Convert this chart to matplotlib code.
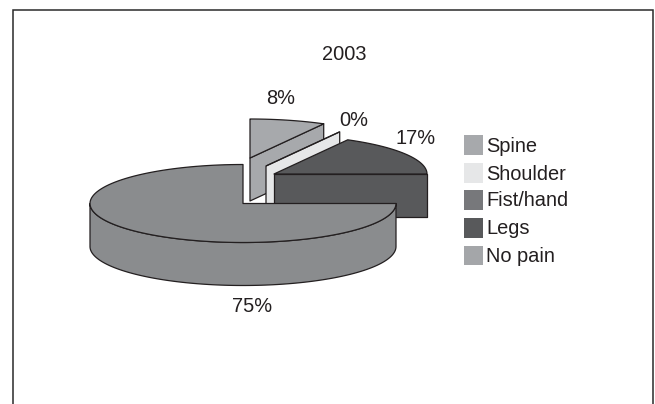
import numpy as np
import matplotlib
matplotlib.use("Agg")
import matplotlib.pyplot as plt
from matplotlib.patches import Polygon, Rectangle

plt.rcParams["font.family"] = ["Liberation Sans", "DejaVu Sans"]

title = "2003"
categories = ["Spine", "Shoulder", "Fist/hand", "Legs", "No pain"]
shares = [8, 0, 0, 17, 75]
key_colors = ["#a7a9ac", "#e6e7e8", "#77787b", "#58595b", "#a4a6a9"]
slice_colors = ["#a7a9ac", "#e6e7e8", "#77787b", "#58595b", "#8a8c8e"]
value_labels = ["8%", "0%", None, "17%", "75%"]

INK = "#231f20"
RX, RY, DEPTH = 153.0, 39.0, 43.0
# slice apex in pixel space, each one pulled out of the pie separately
apexes = {0: (250, 158), 1: (266, 166), 3: (274, 174), 4: (243, 203.5)}
label_xy = {0: (281, 99), 1: (354, 120), 3: (416, 138), 4: (252, 306)}

fig = plt.figure(figsize=(6.55, 4.04), dpi=100)
ax = fig.add_axes([0, 0, 1, 1])
ax.set_xlim(0, 655)
ax.set_ylim(404, 0)
ax.axis("off")


def rim(cx, cy, a0, a1, n=120):
    """Points along the ellipse from a0 to a1 (degrees, counter-clockwise)."""
    t = np.radians(np.linspace(a0, a1, n))
    return np.column_stack([cx + RX * np.cos(t), cy - RY * np.sin(t)])


def draw_back_slice(idx, a_start, a_end):
    cx, cy = apexes[idx]
    style = dict(facecolor=slice_colors[idx], edgecolor=INK, linewidth=0.9, joinstyle="round")
    apex = np.array([[cx, cy]])
    down = np.array([0, DEPTH])
    # only the radial wall on the clockwise side faces the viewer
    p = rim(cx, cy, a_end, a_end, 1)
    ax.add_patch(Polygon(np.vstack([apex, p, p + down, apex + down]), closed=True, **style))
    ax.add_patch(Polygon(np.vstack([apex, rim(cx, cy, a_end, a_start)]), closed=True, **style))


# walk clockwise from twelve o'clock, drawing back slices first
angle = 90.0
spans = {}
for i, s in enumerate(shares):
    spans[i] = (angle, angle - s * 3.6)
    angle -= s * 3.6

for i in (0, 1, 3):
    draw_back_slice(i, *spans[i])

# the large slice wraps round from 0 deg through the front to 90 deg
cx, cy = apexes[4]
style = dict(facecolor=slice_colors[4], edgecolor=INK, linewidth=0.9, joinstyle="round")
front = rim(cx, cy, 180, 360)
ax.add_patch(Polygon(np.vstack([front, (front + [0, DEPTH])[::-1]]), closed=True, **style))
top = rim(cx, cy, spans[4][1] + 360, spans[4][0] + 360 if spans[4][0] > 0 else 360)
ax.add_patch(Polygon(np.vstack([[[cx, cy]], top]), closed=True, **style))

# value labels
for i, text in enumerate(value_labels):
    if text:
        ax.text(*label_xy[i], text, fontsize=14.4, color=INK, ha="center", va="center")

ax.text(344, 54, title, fontsize=14.4, color=INK, ha="center", va="center")

# key on the right
for name, col, y in zip(categories, key_colors, [145, 173, 200, 228, 255.5]):
    ax.add_patch(Rectangle((463.5, y - 10), 19.5, 19.5, facecolor=col, edgecolor="none"))
    ax.text(486, y + 1, name, fontsize=14.4, color=INK, ha="left", va="center")

# surrounding frame, open along the bottom
ax.plot([12.5, 12.5, 653.3, 653.3], [404, 9.5, 9.5, 404], color="#2a2a2a", lw=1.1,
        solid_joinstyle="miter", clip_on=False)

fig.savefig("out.png", dpi=100)
